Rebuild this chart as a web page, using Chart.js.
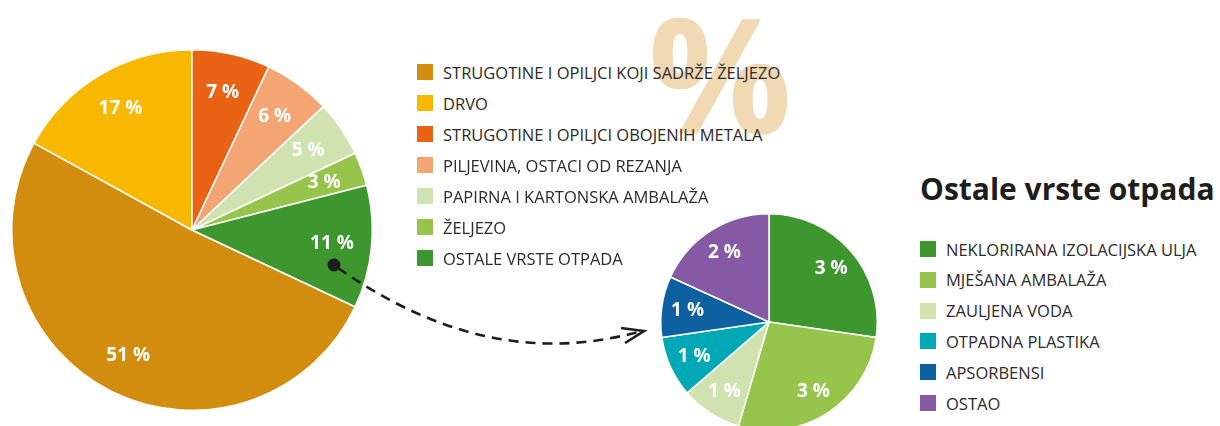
<!DOCTYPE html>
<html>
<head>
<meta charset="utf-8">
<script src="https://cdn.jsdelivr.net/npm/chart.js@4"></script>
<style>
  html, body { margin:0; padding:0; background:#fff; }
  body { width:1220px; height:426px; overflow:hidden; position:relative; font-family:"Open Sans", sans-serif; }
  .abs { position:absolute; }
  #watermark { left:648px; top:-8px; font-size:160px; font-weight:700; color:#f1d9b4; line-height:1; z-index:0; }
  .legend { position:absolute; z-index:2; }
  .row { position:absolute; display:flex; align-items:center; height:16px; white-space:nowrap; }
  .sw { width:16px; height:16px; flex:none; }
  .lt { margin-left:10px; font-size:16.5px; color:#2b2b2b; }
  #title { left:920px; top:168px; font-size:30px; font-weight:700; color:#1d1d1b; z-index:2; white-space:nowrap; }
  #bigWrap { left:11px; top:49px; width:362px; height:362px; z-index:1; }
  #smallWrap { left:660px; top:213px; width:218px; height:218px; z-index:1; }
  #arrow { left:0; top:0; z-index:3; pointer-events:none; }
</style>
</head>
<body>
<div id="watermark" class="abs">%</div>
<div id="bigWrap" class="abs"><canvas id="big" width="362" height="362"></canvas></div>
<div id="smallWrap" class="abs"><canvas id="small" width="218" height="218"></canvas></div>
<div id="legendMain" class="legend" style="left:417px;top:64px;"></div>
<div id="title" class="abs">Ostale vrste otpada</div>
<div id="legendOther" class="legend" style="left:920px;top:241px;"></div>
<svg id="arrow" class="abs" width="1220" height="426">
  <circle cx="334" cy="265" r="6.5" fill="#1d1d1b"/>
  <path d="M338 268 C 420 325, 520 365, 642 331" fill="none" stroke="#1d1d1b" stroke-width="2.6" stroke-dasharray="10 7"/>
  <path d="M621 328 L644 331 L625 343" fill="none" stroke="#1d1d1b" stroke-width="2.6" stroke-linejoin="miter"/>
</svg>
<script>
// ---- data ----
const mainLabels = [
  "STRUGOTINE I OPILJCI KOJI SADRŽE ŽELJEZO",
  "DRVO",
  "STRUGOTINE I OPILJCI OBOJENIH METALA",
  "PILJEVINA, OSTACI OD REZANJA",
  "PAPIRNA I KARTONSKA AMBALAŽA",
  "ŽELJEZO",
  "OSTALE VRSTE OTPADA"
];
const mainValues = [51, 17, 7, 6, 5, 3, 11];
const mainColors = ["#d28d0f", "#f9b800", "#ea6315", "#f4a574", "#d0e2b0", "#97c44b", "#3e962f"];

const otherLabels = [
  "NEKLORIRANA IZOLACIJSKA ULJA",
  "MJEŠANA AMBALAŽA",
  "ZAULJENA VODA",
  "OTPADNA PLASTIKA",
  "APSORBENSI",
  "OSTAO"
];
const otherValues = [3, 3, 1, 1, 1, 2];
const otherColors = ["#3e962f", "#97c44b", "#d0e2b0", "#00a8b6", "#0d61a0", "#8559a3"];

// ---- legends ----
function buildLegend(id, labels, colors, step) {
  const el = document.getElementById(id);
  labels.forEach((l, i) => {
    const r = document.createElement('div');
    r.className = 'row';
    r.style.top = (i * step) + 'px';
    r.innerHTML = '<span class="sw" style="background:' + colors[i] + '"></span><span class="lt">' + l + '</span>';
    el.appendChild(r);
  });
}
buildLegend('legendMain', mainLabels, mainColors, 31);
buildLegend('legendOther', otherLabels, otherColors, 30.8);

// ---- slice labels plugin ----
const sliceLabels = {
  id: 'sliceLabels',
  afterDatasetsDraw(chart) {
    const ctx = chart.ctx;
    const ds = chart.data.datasets[0];
    const meta = chart.getDatasetMeta(0);
    ctx.save();
    ctx.font = 'bold 19px "Open Sans"';
    ctx.fillStyle = '#ffffff';
    ctx.textAlign = 'center';
    ctx.textBaseline = 'middle';
    meta.data.forEach((arc, i) => {
      const p = arc.getProps(['x', 'y', 'startAngle', 'endAngle', 'outerRadius'], true);
      const mid = (p.startAngle + p.endAngle) / 2;
      const rr = p.outerRadius * chart.options.plugins.sliceLabels.ratio;
      ctx.fillText(ds.data[i] + ' %', p.x + Math.cos(mid) * rr, p.y + Math.sin(mid) * rr);
    });
    ctx.restore();
  }
};

function makePie(id, labels, values, colors, rotation, ratio) {
  return new Chart(document.getElementById(id), {
    type: 'pie',
    data: { labels: labels, datasets: [{ data: values, backgroundColor: colors, borderColor: '#ffffff', borderWidth: 1.5 }] },
    options: {
      responsive: false,
      animation: false,
      rotation: rotation,
      layout: { padding: 0 },
      plugins: { legend: { display: false }, tooltip: { enabled: false }, sliceLabels: { ratio: ratio } }
    },
    plugins: [sliceLabels]
  });
}

const mainTotal = mainValues.reduce((a, b) => a + b, 0);
makePie('big', mainLabels, mainValues, mainColors, 360 * (1 - (mainValues[0] + mainValues[1]) / mainTotal), 0.78);
makePie('small', otherLabels, otherValues, otherColors, 0, 0.76);
</script>
</body>
</html>
